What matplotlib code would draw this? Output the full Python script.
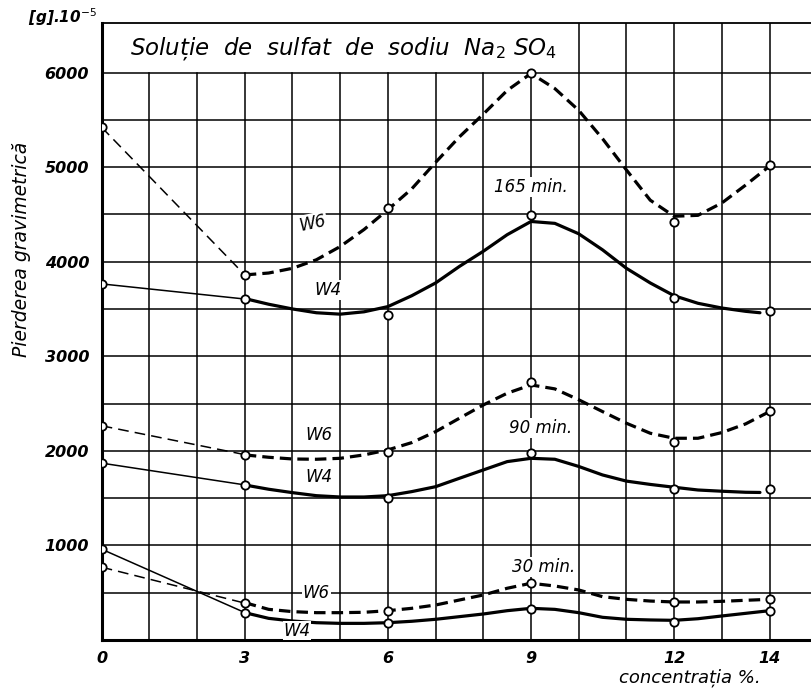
import matplotlib
matplotlib.use("Agg")
import matplotlib.pyplot as plt

# measured points (open circles)
conc = [0, 3, 6, 9, 12, 14]
w6_165 = [5420, 3860, 4570, 5990, 4420, 5020]
w4_165 = [3765, 3605, 3440, 4490, 3620, 3480]
w6_90 = [2265, 1960, 1985, 2725, 2095, 2420]
w4_90 = [1870, 1640, 1500, 1980, 1595, 1595]
w6_30 = [770, 390, 310, 605, 400, 430]
w4_30 = [960, 290, 185, 330, 190, 310]

# hand-drawn mean curves
curve_x = [3, 3.5, 4, 4.5, 5, 5.5, 6, 6.5, 7, 7.5, 8, 8.5, 9,
           9.5, 10, 10.5, 11, 11.5, 12, 12.5, 13, 13.5, 14]
curve_x_short = curve_x[:-1] + [13.8]
w6_165_curve = [3860, 3880, 3930, 4020, 4160, 4340, 4550, 4770, 5050, 5320,
                5560, 5810, 5990, 5830, 5600, 5300, 4970, 4650, 4480, 4490,
                4620, 4810, 5010]
w4_165_curve = [3610, 3550, 3500, 3460, 3445, 3470, 3525, 3640, 3775, 3950,
                4110, 4285, 4425, 4405, 4295, 4125, 3930, 3775, 3640, 3560,
                3510, 3475, 3460]
w6_90_curve = [1957, 1932, 1914, 1911, 1921, 1957, 2010, 2087, 2203, 2345,
               2485, 2609, 2697, 2655, 2540, 2415, 2292, 2186, 2133, 2133,
               2193, 2285, 2415]
w4_90_curve = [1639, 1594, 1558, 1526, 1512, 1512, 1526, 1569, 1621, 1710,
               1798, 1886, 1921, 1911, 1835, 1745, 1680, 1645, 1615, 1586,
               1573, 1562, 1560]
w6_30_curve = [395, 324, 300, 289, 289, 293, 310, 335, 370, 423, 476, 547,
               600, 571, 529, 458, 430, 412, 402, 402, 409, 420, 430]
w4_30_curve = [289, 229, 201, 183, 176, 176, 183, 198, 219, 247, 275, 310,
               335, 324, 289, 240, 219, 212, 208, 225, 254, 282, 310]

x_ticks = [0, 3, 6, 9, 12, 14]
y_ticks = [1000, 2000, 3000, 4000, 5000, 6000]

def main():
    figure = plt.figure(figsize=(8.11, 6.94), dpi=100)
    ax = figure.add_axes([0.1254, 0.0778, 0.8746, 0.8886])
    ax.set_xlim(0, 14.87)
    ax.set_ylim(0, 6520)

    # grid: verticals stop under the title box on the left
    for x in range(1, 15):
        ax.plot([x, x], [0, 6000 if x < 10 else 6520], color="black", lw=1.1, zorder=1)
    for y in range(500, 6001, 500):
        ax.axhline(y, color="black", lw=1.1, zorder=1)

    for side in ["left", "bottom"]:
        ax.spines[side].set_linewidth(2.2)
    ax.spines["top"].set_linewidth(1.3)
    ax.spines["right"].set_visible(False)

    series = [
        (w6_165, w6_165_curve, curve_x, True),
        (w4_165, w4_165_curve, curve_x_short, False),
        (w6_90, w6_90_curve, curve_x, True),
        (w4_90, w4_90_curve, curve_x_short, False),
        (w6_30, w6_30_curve, curve_x, True),
        (w4_30, w4_30_curve, curve_x, False),
    ]
    for points, curve, cx, dashed in series:
        # thin line from the first point to the second
        thin = ax.plot(conc[:2], points[:2], color="black", lw=1.1, zorder=2)[0]
        thick = ax.plot(cx, curve, color="black", lw=2.3, zorder=2,
                        solid_joinstyle="round", solid_capstyle="round")[0]
        if dashed:
            thin.set_dashes((7, 4))
            thick.set_dashes((3.6, 1.9))
        ax.plot(conc, points, "o", ms=6, mfc="white", mec="black", mew=1.3,
                zorder=3)

    style = dict(fontstyle="italic", fontsize=12, color="black", ha="center",
                 va="center", zorder=4,
                 bbox=dict(facecolor="white", edgecolor="none", pad=0.5))
    ax.text(4.43, 4410, "W6", rotation=12, **style)
    ax.text(4.75, 3700, "W4", **style)
    ax.text(4.55, 2168, "W6", **style)
    ax.text(4.55, 1724, "W4", **style)
    ax.text(4.5, 497, "W6", **style)
    ax.text(4.1, 100, "W4", **style)
    ax.text(9.0, 4790, "165 min.", **style)
    ax.text(9.2, 2242, "90 min.", **style)
    ax.text(9.27, 772, "30 min.", **style)

    ax.text(0.6, 6250, "Soluție  de  sulfat  de  sodiu  Na$_2$ SO$_4$",
            fontstyle="italic", fontsize=16.5, ha="left", va="center")

    ax.set_xticks(x_ticks)
    ax.set_yticks(y_ticks)
    ax.tick_params(length=0, pad=9)
    ax.tick_params(axis="x", pad=8)
    for label in ax.get_xticklabels() + ax.get_yticklabels():
        label.set_fontstyle("italic")
        label.set_fontweight("bold")
        label.set_fontsize(11.5)

    figure.text(0.035, 0.975, "[g].10$^{-5}$", fontstyle="italic",
                fontweight="bold", fontsize=11, ha="left", va="center")
    figure.text(0.027, 0.64, "Pierderea gravimetrică", rotation=90,
                fontstyle="italic", fontsize=13.5, ha="center", va="center")
    figure.text(0.85, 0.024, "concentrația %.", fontstyle="italic",
                fontsize=13, ha="center", va="center")

    figure.savefig("out.png", dpi=100)

if __name__ == "__main__":
    main()
